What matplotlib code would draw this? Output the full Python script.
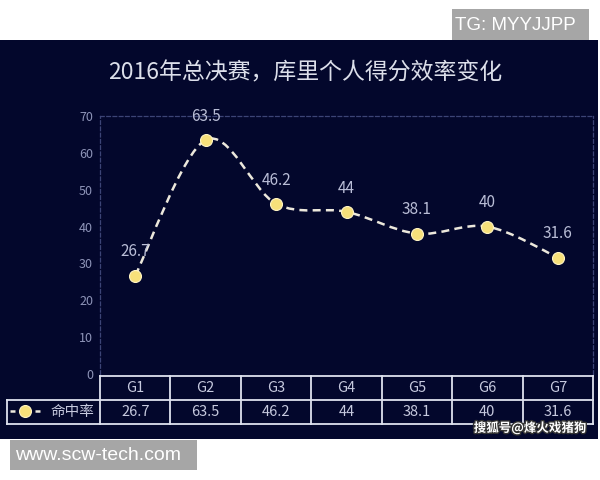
import numpy as np
import matplotlib.pyplot as plt
from matplotlib.patches import Rectangle, PathPatch
from matplotlib.path import Path
from matplotlib.lines import Line2D
import matplotlib.patheffects as pe

plt.rcParams['font.family'] = ['Noto Sans CJK SC', 'DejaVu Sans']

# data
games = ['G1', 'G2', 'G3', 'G4', 'G5', 'G6', 'G7']
fg_pct = [26.7, 63.5, 46.2, 44, 38.1, 40, 31.6]
series_name = '命中率'
title = '2016年总决赛，库里个人得分效率变化'
y_ticks = [0, 10, 20, 30, 40, 50, 60, 70]

BG = '#03072c'
LINE = '#ece8dc'
DOT = '#f7e07a'
TXT = '#b9bdd6'
GRID = '#3c4476'
TABLE = '#dfe2ee'

W, H = 600, 480


def fx(px):
    return px / W


def fy(py):
    return 1 - py / H


def smooth_path(xs, ys):
    # excel style smoothed line: bezier segments, tangents (next - prev) / 6
    pts = np.column_stack([xs, ys]).astype(float)
    n = len(pts)
    verts = [pts[0]]
    codes = [Path.MOVETO]
    for i in range(n - 1):
        p0 = pts[i - 1] if i > 0 else pts[i]
        p1, p2 = pts[i], pts[i + 1]
        p3 = pts[i + 2] if i + 2 < n else pts[i + 1]
        verts += [p1 + (p2 - p0) / 6, p2 - (p3 - p1) / 6, p2]
        codes += [Path.CURVE4] * 3
    return Path(np.array(verts), codes)


fig = plt.figure(figsize=(6, 4.8), dpi=100)
fig.patch.set_facecolor('white')

# dark panel
fig.add_artist(Rectangle((0, fy(439)), fx(598), fy(40) - fy(439),
                         transform=fig.transFigure, facecolor=BG,
                         edgecolor='none', zorder=0))

fig.text(fx(305), fy(73), title, ha='center', va='center',
         fontsize=16.5, color='#dcdfea', fontweight='light')

ax = fig.add_axes([fx(100), fy(374), fx(493), (374 - 116) / H])
ax.set_facecolor('none')
ax.set_xlim(-0.5, len(games) - 0.5)
ax.set_ylim(0, 70)
ax.set_yticks(y_ticks)
ax.set_xticks([])
ax.tick_params(axis='y', length=0, pad=5, labelsize=9, labelcolor='#8e94b8')
for side in ['top', 'left', 'right']:
    ax.spines[side].set_color(GRID)
    ax.spines[side].set_linewidth(0.9)
    ax.spines[side].set_linestyle((0, (3, 2)))
ax.spines['bottom'].set_visible(False)

x = np.arange(len(games))
ax.add_patch(PathPatch(smooth_path(x, fg_pct), facecolor='none', edgecolor=LINE,
                       lw=1.8, linestyle=(0, (3.2, 2.1)), zorder=3,
                       clip_on=False))
ax.plot(x, fg_pct, 'o', ms=8.6, mfc=DOT, mec='#fff4c4', mew=0.8,
        zorder=4, clip_on=False)
for i, v in enumerate(fg_pct):
    ax.annotate(f'{v:g}', (i, v), xytext=(0, 17), textcoords='offset points',
                ha='center', va='center', fontsize=11, color=TXT)

# data table under the chart
tab = fig.add_axes([fx(100), fy(424), fx(493), 48 / H])
tab.set_xlim(-0.5, len(games) - 0.5)
tab.set_ylim(0, 2)
tab.axis('off')
x_left = -0.5 - (100 - 7) / (493 / len(games))
right = len(games) - 0.5
kw = dict(color=TABLE, lw=1.3, clip_on=False, solid_capstyle='projecting')
tab.plot([-0.5, right], [2, 2], **kw)
tab.plot([x_left, right], [1, 1], **kw)
tab.plot([x_left, right], [0, 0], **kw)
for b in np.arange(-0.5, right + 0.1, 1):
    tab.plot([b, b], [0, 2], **kw)
tab.plot([x_left, x_left], [0, 1], **kw)
for i, (g, v) in enumerate(zip(games, fg_pct)):
    tab.text(i, 1.5, g, ha='center', va='center', fontsize=10.5, color='#c6c9de')
    tab.text(i, 0.5, f'{v:g}', ha='center', va='center', fontsize=10.5,
             color='#c6c9de')

handle = Line2D([], [], color=LINE, lw=1.8, linestyle=(0, (2, 3)),
                marker='o', ms=8.6, mfc=DOT, mec='#fff4c4', mew=0.8)
leg = fig.legend([handle], [series_name], loc='center left',
                 bbox_to_anchor=(fx(10), fy(412)), bbox_transform=fig.transFigure,
                 frameon=False, fontsize=10.5, handlelength=2.05,
                 handletextpad=0.75, borderpad=0, borderaxespad=0, numpoints=1)
for t in leg.get_texts():
    t.set_color('#c6c9de')

fig.text(fx(530), fy(428), '搜狐号@烽火戏猪狗', ha='center', va='center',
         fontsize=9, color='white', fontweight='bold',
         path_effects=[pe.withStroke(linewidth=2, foreground='#333333')])

# grey watermark boxes
fig.add_artist(Rectangle((fx(452), fy(40)), fx(137), (40 - 9) / H,
                         transform=fig.transFigure, facecolor='#a6a6a6',
                         edgecolor='none', zorder=1))
fig.text(fx(455), fy(25), 'TG: MYYJJPP', ha='left', va='center',
         fontsize=13.5, color='white', family='Liberation Sans')
fig.add_artist(Rectangle((fx(10), fy(470)), fx(187), 30 / H,
                         transform=fig.transFigure, facecolor='#a6a6a6',
                         edgecolor='none', zorder=1))
fig.text(fx(15), fy(456), 'www.scw-tech.com', ha='left', va='center',
         fontsize=14, color='white', family='Liberation Sans')

fig.savefig('out.png', dpi=100, facecolor=fig.get_facecolor())
